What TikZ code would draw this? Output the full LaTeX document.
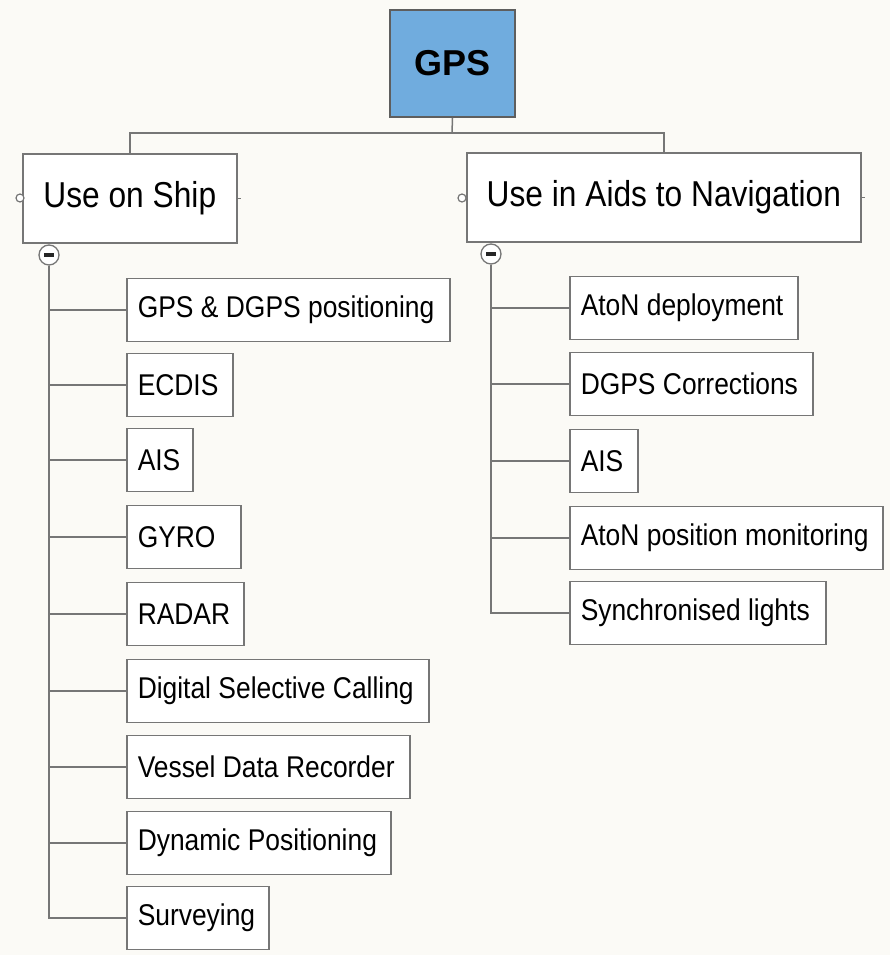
\documentclass[tikz,border=0pt]{standalone}
\usepackage{fontspec}
\setmainfont{Liberation Sans}[FakeStretch=0.88]
\newfontfamily\titlefont{Liberation Sans}
\definecolor{gpsblue}{RGB}{112,172,222}
\definecolor{edge}{RGB}{118,118,118}
\definecolor{paper}{RGB}{251,250,246}
\tikzset{
  px/.style={x=1pt,y=-1pt},
  rootbox/.style={draw=edge!80!black, line width=1.6pt, fill=gpsblue,
    minimum width=125pt, minimum height=107pt, inner sep=0pt,
    font=\titlefont\fontsize{36}{40}\selectfont\bfseries},
  headbox/.style={draw=edge, line width=1.6pt, fill=white, anchor=north west,
    minimum height=89pt, inner sep=0pt, text width=#1, align=center,
    font=\fontsize{36}{40}\selectfont,
    execute at begin node={\spaceskip=8.9pt\relax}},
  leaf/.style={draw=edge, line width=1.5pt, fill=white, anchor=west,
    minimum height=63pt, inner xsep=11pt, inner ysep=0pt, text width=#1,
    align=left, font=\fontsize{30}{34}\selectfont,
    execute at begin node={\spaceskip=7.4pt\relax
      \hyphenpenalty=10000 \exhyphenpenalty=10000 }},
  link/.style={draw=edge, line width=1.5pt},
  toggle/.style={circle, draw=edge, line width=1.3pt, fill=white,
    minimum size=20pt, inner sep=0pt},
  port/.style={circle, draw=edge, line width=1.2pt, fill=white,
    minimum size=8pt, inner sep=0pt}
}
\begin{document}
\begin{tikzpicture}[px]
  \fill[paper] (0,0) rectangle (890,955);
  \useasboundingbox (0,0) rectangle (890,955);

  % root
  \node[rootbox] (gps) at (452.5,63.5) {GPS};

  % the two branches
  \node[headbox=214pt] (ship) at (22,153) {Use on Ship};
  \node[headbox=394pt] (aton) at (466,152) {Use in Aids to Navigation};

  \coordinate (bus) at (452,133);
  \draw[link] (gps.south) -- (bus);
  \draw[link] (bus) -| (ship.north);
  \draw[link] (bus) -| (aton.north);

  % side ports of the branch boxes
  \node[port] (shipin) at (20,198) {};
  \node[port] (atonin) at (462,198) {};
  \draw[link, line width=1pt] (ship.east) -- ++(3,0);
  \draw[link, line width=1pt] (aton.east) -- ++(3,0);

  % collapse toggles
  \node[toggle] (shipt) at (49,255) {};
  \node[toggle] (atont) at (491,254) {};
  \foreach \t in {shipt,atont}
    \fill[black!85] (\t.center) ++(-5,-1.6) rectangle ++(10,3.2);

  % leaves under "Use on Ship"
  \node[leaf=301pt] (s1) at (126,310) {GPS \& DGPS positioning};
  \node[leaf=84pt]  (s2) at (126,385) {ECDIS};
  \node[leaf=44pt]  (s3) at (126,460) {AIS};
  \node[leaf=92pt]  (s4) at (126,537) {GYRO};
  \node[leaf=95pt]  (s5) at (126,614) {RADAR};
  \node[leaf=280pt] (s6) at (126,691) {Digital Selective Calling};
  \node[leaf=261pt] (s7) at (126,767) {Vessel Data Recorder};
  \node[leaf=242pt] (s8) at (126,843) {Dynamic Positioning};
  \node[leaf=120pt] (s9) at (126,918) {Surveying};
  \foreach \n in {s1,s2,s3,s4,s5,s6,s7,s8,s9}
    \draw[link] (shipt.south) |- (\n.west);

  % leaves under "Use in Aids to Navigation"
  \node[leaf=206pt] (a1) at (569,308) {AtoN deployment};
  \node[leaf=221pt] (a2) at (569,384) {DGPS Corrections};
  \node[leaf=46pt]  (a3) at (569,461) {AIS};
  \node[leaf=291pt] (a4) at (569,538) {AtoN position monitoring};
  \node[leaf=234pt] (a5) at (569,613) {Synchronised lights};
  \foreach \n in {a1,a2,a3,a4,a5}
    \draw[link] (atont.south) |- (\n.west);
\end{tikzpicture}
\end{document}
